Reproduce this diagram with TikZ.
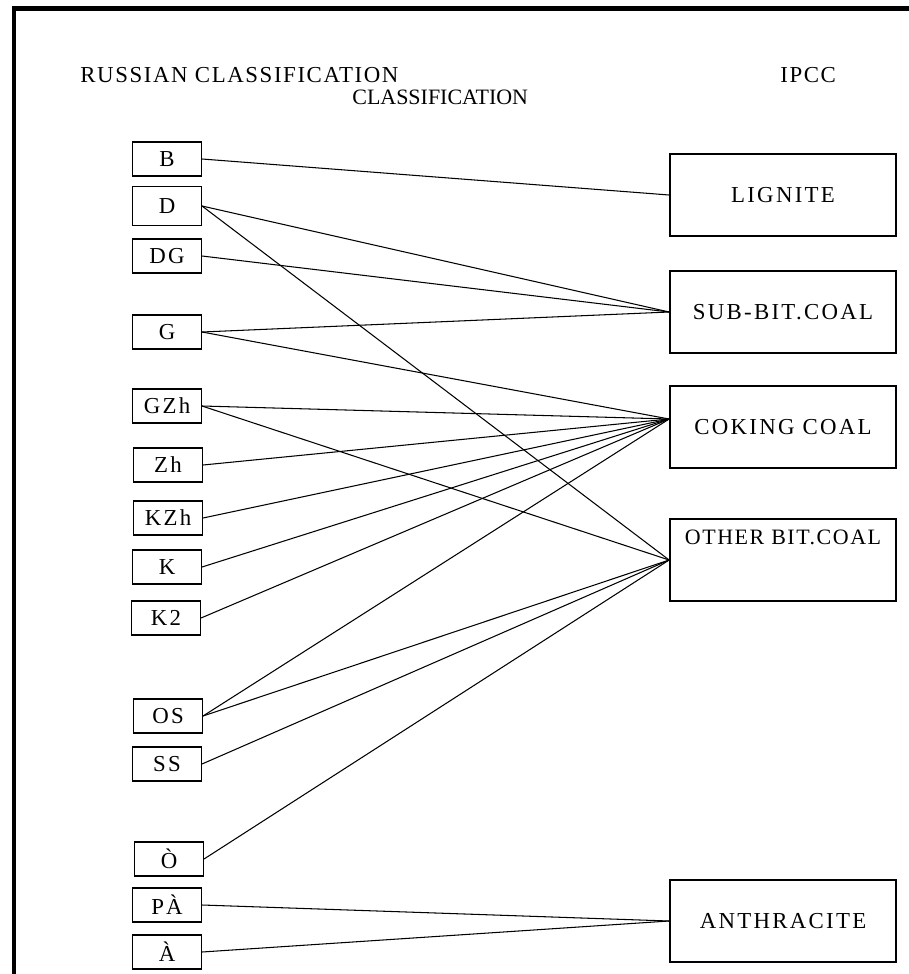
\documentclass[tikz,border=0pt]{standalone}
\usepackage{fontspec}
\setmainfont{Liberation Serif}
\newfontfamily\spaced[LetterSpace=10]{Liberation Serif}
\newfontfamily\wide[LetterSpace=7]{Liberation Serif}
\usetikzlibrary{positioning}

\begin{document}
\begin{tikzpicture}[x=0.02cm, y=-0.02cm,
  head/.style={font=\wide\fontsize{13}{15}\selectfont, inner sep=0pt},
  gbox/.style={draw, line width=0.6pt, minimum width=1.38cm, minimum height=0.68cm, inner sep=0pt, font=\spaced\fontsize{13}{15}\selectfont},
  cbox/.style={draw, line width=1pt, minimum width=4.52cm, minimum height=1.64cm, inner sep=0pt, font=\spaced\fontsize{13}{15}\selectfont},
  link/.style={line width=0.6pt}
]
  \useasboundingbox (0,0) rectangle (909,974);
  % Frame
  \draw[line width=2.3pt] (14,974) -- (14,8.5) -- (909,8.5);

  % Headings
  \node[head, anchor=west] (russ) at (80,75) {RUSSIAN CLASSIFICATION};
  \node[head, anchor=west, font=\rmfamily\fontsize{12.5}{15}\selectfont] (cls) at (352,97) {CLASSIFICATION};
  \node[head, anchor=west] (ipcc) at (780,75) {IPCC};

  % Russian grades
  \node[gbox] (b) at (167,159) {B};
  \node[gbox, minimum height=0.78cm] (d) at (167,206) {D};
  \node[gbox] (dg) at (167,256) {DG};
  \node[gbox] (g) at (167,332) {G};
  \node[gbox] (gzh) at (167,406) {GZh};
  \node[gbox] (zh) at (168,465) {Zh};
  \node[gbox] (kzh) at (168,518) {KZh};
  \node[gbox] (k) at (167,567) {K};
  \node[gbox] (k2) at (166,618) {K2};
  \node[gbox] (os) at (168,716) {OS};
  \node[gbox] (ss) at (167,764) {SS};
  \node[gbox] (t) at (169,859) {Ò};
  \node[gbox] (pa) at (167,905) {PÀ};
  \node[gbox] (a) at (167,952) {À};

  % IPCC classes
  \node[cbox] (lig) at (783,195) {LIGNITE};
  \node[cbox] (sub) at (783,312) {SUB-BIT.COAL};
  \node[cbox] (cok) at (783,427) {COKING COAL};
  \node[cbox, label={[font=\wide\fontsize{12.5}{15}\selectfont, inner sep=0pt, anchor=north, yshift=-0.22cm]north:OTHER BIT.COAL}] (oth) at (783,560) {};
  \node[cbox] (ant) at (783,921) {ANTHRACITE};
  \coordinate (cokin) at ([yshift=0.16cm]cok.west);

  % Links
  \draw[link] (b.east) -- (lig.west);
  \draw[link] (d.east) -- (sub.west);
  \draw[link] (d.east) -- (oth.west);
  \draw[link] (dg.east) -- (sub.west);
  \draw[link] (g.east) -- (sub.west);
  \draw[link] (g.east) -- (cokin);
  \draw[link] (gzh.east) -- (cokin);
  \draw[link] (gzh.east) -- (oth.west);
  \draw[link] (zh.east) -- (cokin);
  \draw[link] (kzh.east) -- (cokin);
  \draw[link] (k.east) -- (cokin);
  \draw[link] (k2.east) -- (cokin);
  \draw[link] (os.east) -- (cokin);
  \draw[link] (os.east) -- (oth.west);
  \draw[link] (ss.east) -- (oth.west);
  \draw[link] (t.east) -- (oth.west);
  \draw[link] (pa.east) -- (ant.west);
  \draw[link] (a.east) -- (ant.west);
\end{tikzpicture}
\end{document}
